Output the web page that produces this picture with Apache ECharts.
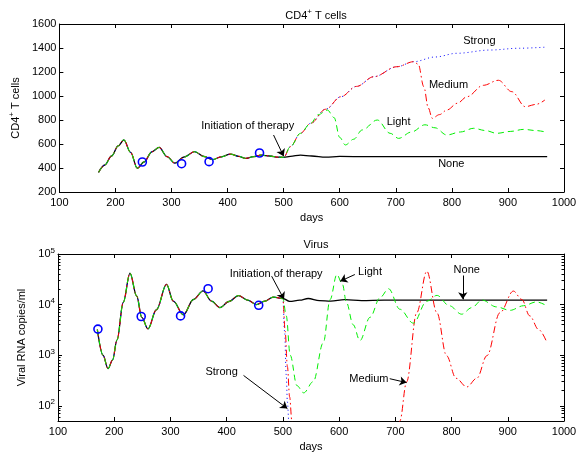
<!DOCTYPE html>
<html><head><meta charset="utf-8">
<script src="https://cdn.jsdelivr.net/npm/echarts@6/dist/echarts.min.js"></script>
<style>html,body{margin:0;padding:0;background:#fff}#c{width:582px;height:453px}</style>
</head><body><div id="c"></div>
<script>
// ---------- data ----------
// shared pre-therapy trajectory (days 170-500)
const preDays   = [170,181,193,205,215,227,239,251,265,278,292,306,323,341,358,373,389,405,420,432,446,460,475,490,500];
const preCD4    = [364,425,500,585,635,530,398,450,535,572,495,440,492,536,496,470,493,516,497,480,494,508,500,490,489];
const preVirDays= [170,180,189,197,205,216,228,240,249,260,275,293,305,323,341,358,373,388,404,421,437,453,468,483,500];
const preVirus  = [3200,1000,540,800,2000,11000,41700,14800,5600,3300,7900,25100,11700,6300,12600,18600,11700,8700,11500,15100,12300,10000,11700,14100,13200];

// CD4+ T cells after initiation of therapy
const noneCD4Days   = [512,530,550,575,600,650,700,800,970];
const noneCD4       = [497,508,500,490,497,494,494,494,494];
const strongCD4Days = [512,530,548,575,602,630,661,702,732,770,809,868,920,970];
const strongCD4     = [578,689,772,890,994,1080,1161,1244,1286,1325,1356,1383,1398,1408];
const mediumCD4Days = [512,530,548,575,602,630,661,702,732,740,750,758,765,778,791,810,827,856,883,907,931,950,966];
const mediumCD4     = [578,689,772,890,994,1080,1161,1244,1286,1265,1078,900,814,845,883,940,994,1089,1131,1036,911,930,967];
const lightCD4Days  = [512,530,548,562,578,590,600,610,625,640,667,690,705,728,752,770,791,815,839,860,880,905,928,950,970];
const lightCD4      = [578,689,772,845,883,820,655,592,640,717,800,689,647,700,760,735,675,700,731,712,689,705,722,712,697];

// Virus after initiation of therapy
const noneVirDays   = [512,530,545,565,585,610,640,680,750,850,970];
const noneVir       = [11600,12200,13200,12000,11700,12500,12000,12300,12300,12300,12300];
const strongVirDays = [503,506,508,511,515];
const strongVir     = [3000,400,120,40,10];
const mediumVirDays = [504,508,512,516,520,540,700,708,720,738,756,774,791,808,827,845,863,886,910,925,939,955,970];
const mediumVir     = [3000,600,150,50,20,5,5,50,295,6900,45700,6900,980,350,235,350,980,6900,18500,12600,6000,3200,1740];
const lightVirDays  = [506,513,525,537,554,572,584,596,606,613,625,637,655,673,688,708,732,756,774,796,818,836,854,880,904,928,951,970];
const lightVir      = [6000,1000,250,180,300,1780,12600,39300,25000,11000,4000,1940,5600,13800,20600,8100,4300,11700,15200,9500,6460,8700,12300,9000,7700,9500,11300,9400];

// observed data (circles)
const obsCD4Days = [248,318,367,457];
const obsCD4     = [450,436,453,525];
const obsVirDays = [171,248,318,367,457];
const obsVir     = [3280,5820,5970,20600,9680];

// axis ticks
const virMajorTicks = [100,1000,10000,100000];
const virMinorTicks = [60,70,80,90,200,300,400,500,600,700,800,900,2000,3000,4000,5000,6000,7000,8000,9000,20000,30000,40000,50000,60000,70000,80000,90000];

// ---------- chart ----------
const pts = (d, v) => d.map((x, i) => [x, v[i]]);
const FONT = 'Liberation Sans';
const txt = {color:'#000', fontFamily: FONT, fontSize: 11};
const supRich = {sup:{fontFamily:FONT,fontSize:8,color:'#000',verticalAlign:'bottom',padding:[0,0,7,0]}};

const chart = echarts.init(document.getElementById('c'), null, {renderer:'canvas'});

function xAx(gi, pos, show) {
  return {type:'value', gridIndex:gi, position:pos, min:100, max:1000, interval:100,
    axisLine:{show:true, onZero:false, lineStyle:{color:'#000', width:1}},
    axisTick:{show:true, inside:true, length:4, lineStyle:{color:'#000'}},
    axisLabel:{show:show, margin:5, ...txt, formatter: v => String(v)},
    splitLine:{show:false},
    name: show ? 'days' : '', nameLocation:'middle', nameGap:20, nameTextStyle:txt};
}
function yLin(pos, show) {
  return {type:'value', gridIndex:0, position:pos, min:200, max:1600, interval:200,
    axisLine:{show:true, onZero:false, lineStyle:{color:'#000', width:1}},
    axisTick:{show:true, inside:true, length:4, lineStyle:{color:'#000'}},
    axisLabel:{show:show, margin:3, ...txt, formatter: v => String(v)},
    splitLine:{show:false},
    name: show ? 'CD4{sup|+} T cells' : '', nameLocation:'middle', nameGap:31, nameRotate:90,
    nameTextStyle:{...txt, rich:supRich}};
}
function yLog(pos, show, minor) {
  return {type:'log', gridIndex:1, position:pos, min:50, max:100000, logBase:10,
    axisLine:{show:!minor, onZero:false, lineStyle:{color:'#000', width:1}},
    axisTick:{show:true, inside:true, length: minor ? 2.5 : 4, lineStyle:{color:'#000'},
      customValues: minor ? virMinorTicks : virMajorTicks},
    axisLabel:{show:show, margin:3, ...txt, customValues: virMajorTicks,
      formatter: v => '10{sup|' + Math.round(Math.log10(v)) + '}', rich:supRich},
    splitLine:{show:false},
    name: show ? 'Viral RNA copies/ml' : '', nameLocation:'middle', nameGap:21, nameRotate:90,
    nameTextStyle:txt};
}

const arrowLine = (a, b) => [{coord:a}, {coord:b}];
const mlCommon = {silent:true, symbol:['none','arrow'], symbolSize:7, animation:false,
  lineStyle:{color:'#000', type:'solid', width:1}, label:{show:false}, emphasis:{disabled:true}};
const mpCommon = {silent:true, symbol:'circle', symbolSize:1, itemStyle:{color:'rgba(0,0,0,0)'}, animation:false,
  label:{show:true, position:'inside', formatter:p => p.name, ...txt}};

const lineBase = {type:'line', showSymbol:false, smooth:0.35, smoothMonotone:'x', clip:true, animation:false,
  emphasis:{disabled:true}};
const circleBase = {type:'scatter', symbol:'circle', symbolSize:8, animation:false, silent:true, z:5,
  itemStyle:{color:'rgba(255,255,255,0)', borderColor:'#0000ff', borderWidth:1.6, opacity:1}};

const option = {
  animation:false,
  textStyle:{fontFamily:FONT},
  title:[
    {text:'CD4{sup|+} T cells', left:311, top:3, textAlign:'center',
      textStyle:{...txt, fontWeight:'normal', rich:supRich}},
    {text:'Virus', left:311, top:234, textAlign:'center', textStyle:{...txt, fontWeight:'normal'}}
  ],
  grid:[
    {left:58, top:24, width:506, height:168},
    {left:58, top:254, width:506, height:169}
  ],
  xAxis:[xAx(0,'bottom',true), xAx(0,'top',false), xAx(1,'bottom',true), xAx(1,'top',false)],
  yAxis:[yLin('left',true), yLin('right',false),
         yLog('left',true,false), yLog('right',false,false), yLog('left',false,true), yLog('right',false,true)],
  series:[
    // ---- CD4 ----
    {...lineBase, name:'None', xAxisIndex:0, yAxisIndex:0,
      data:pts(preDays.concat(noneCD4Days), preCD4.concat(noneCD4)),
      lineStyle:{color:'#000', width:1.3},
      markPoint:{...mpCommon, data:[
        {name:'Initiation of therapy', coord:[436,750]},
        {name:'Strong', coord:[849,1461]},
        {name:'Medium', coord:[794,1092]},
        {name:'Light', coord:[705,781]},
        {name:'None', coord:[799,433]}]},
      markLine:{...mlCommon, data:[arrowLine([482,675],[500,498])]}},
    {...lineBase, name:'Strong', xAxisIndex:0, yAxisIndex:0,
      data:pts(preDays.concat(strongCD4Days), preCD4.concat(strongCD4)),
      lineStyle:{color:'#0000ff', width:1, type:[1,3]}},
    {...lineBase, name:'Medium', xAxisIndex:0, yAxisIndex:0,
      data:pts(preDays.concat(mediumCD4Days), preCD4.concat(mediumCD4)),
      lineStyle:{color:'#ff0000', width:1, type:[7,3,1.5,3]}},
    {...lineBase, name:'Light', xAxisIndex:0, yAxisIndex:0,
      data:pts(preDays.concat(lightCD4Days), preCD4.concat(lightCD4)),
      lineStyle:{color:'#00ee00', width:1, type:[6,4]}},
    {...circleBase, xAxisIndex:0, yAxisIndex:0, data:pts(obsCD4Days, obsCD4)},
    // ---- Virus ----
    {...lineBase, name:'None', xAxisIndex:2, yAxisIndex:2,
      data:pts(preVirDays.concat(noneVirDays), preVirus.concat(noneVir)),
      lineStyle:{color:'#000', width:1.3},
      markPoint:{...mpCommon, data:[
        {name:'Initiation of therapy', coord:[488,41100]},
        {name:'Strong', coord:[391,476]},
        {name:'Light', coord:[655,43500]},
        {name:'None', coord:[827,49200]},
        {name:'Medium', coord:[653,343]}]},
      markLine:{...mlCommon, data:[
        arrowLine([480,36400],[502,12700]),
        arrowLine([430,398],[508,88]),
        arrowLine([628,39300],[602,29000]),
        arrowLine([820,37600],[820,12700]),
        arrowLine([690,343],[720,287])]}},
    {...lineBase, name:'Strong', xAxisIndex:2, yAxisIndex:2,
      data:pts(preVirDays.concat(strongVirDays), preVirus.concat(strongVir)),
      lineStyle:{color:'#0000ff', width:1, type:[1,3]}},
    {...lineBase, name:'Medium', xAxisIndex:2, yAxisIndex:2,
      data:pts(preVirDays.concat(mediumVirDays), preVirus.concat(mediumVir)),
      lineStyle:{color:'#ff0000', width:1, type:[7,3,1.5,3]}},
    {...lineBase, name:'Light', xAxisIndex:2, yAxisIndex:2,
      data:pts(preVirDays.concat(lightVirDays), preVirus.concat(lightVir)),
      lineStyle:{color:'#00ee00', width:1, type:[6,4]}},
    {...circleBase, xAxisIndex:2, yAxisIndex:2, data:pts(obsVirDays, obsVir)}
  ]
};
chart.setOption(option);
</script></body></html>
